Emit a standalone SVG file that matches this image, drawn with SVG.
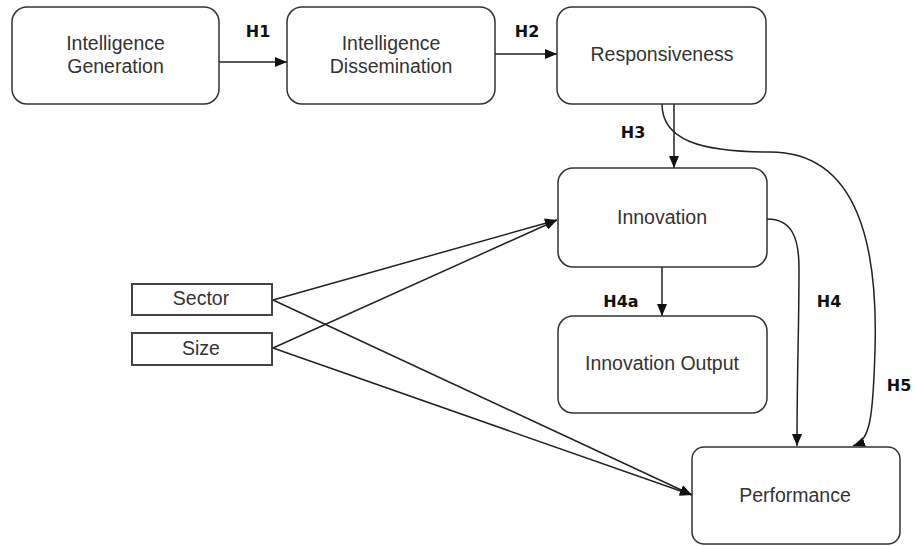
<svg xmlns="http://www.w3.org/2000/svg" width="915" height="546" viewBox="0 0 915 546">
<style>
.node{fill:#fff;stroke:#333;stroke-width:1.5}
.sq{fill:#fff;stroke:#444;stroke-width:2}
.t{font-family:"Liberation Sans",Arial,sans-serif;font-size:19.5px;fill:#333;text-anchor:middle}
.lab{font-family:"DejaVu Sans",Verdana,sans-serif;font-weight:bold;font-size:16px;fill:#111;text-anchor:middle}
.c{fill:none;stroke:#222;stroke-width:1.5}
</style>
<defs>
<marker id="ah" viewBox="0 0 12 10" refX="12" refY="5" markerWidth="12" markerHeight="10" markerUnits="userSpaceOnUse" orient="auto">
<path d="M0,0 L12,5 L0,10 Z" fill="#111"/>
</marker>
</defs>
<g id="connectors">
<path class="c" d="M219,62 L287,62" marker-end="url(#ah)"/>
<path class="c" d="M495,54 L557,54" marker-end="url(#ah)"/>
<path class="c" d="M674,104 L674,168" marker-end="url(#ah)"/>
<path class="c" d="M662,104 C662,140 700,152 770,152 C860,152 878,250 875,350 C873,420 870,440 853,446" marker-end="url(#ah)"/>
<path class="c" d="M767,219 C792,219 799,238 799,268 C799,330 797,370 797,446" marker-end="url(#ah)"/>
<path class="c" d="M662,267 L662,316" marker-end="url(#ah)"/>
<path class="c" d="M273,300 L557,220" marker-end="url(#ah)"/>
<path class="c" d="M273,348 L557,220" marker-end="url(#ah)"/>
<path class="c" d="M273,300 L692,495" marker-end="url(#ah)"/>
<path class="c" d="M273,348 L692,495" marker-end="url(#ah)"/>
</g>
<g id="labels">
<text class="lab" x="258" y="37">H1</text>
<text class="lab" x="527" y="37">H2</text>
<text class="lab" x="633" y="138">H3</text>
<text class="lab" x="621" y="307">H4a</text>
<text class="lab" x="829" y="307">H4</text>
<text class="lab" x="899" y="391">H5</text>
</g>
<g id="intelligence-generation">
<rect class="node" x="12" y="7" width="207" height="97" rx="15"/>
<text class="t" x="115.5" y="50">Intelligence</text>
<text class="t" x="115.5" y="73">Generation</text>
</g>
<g id="intelligence-dissemination">
<rect class="node" x="287" y="7" width="208" height="97" rx="15"/>
<text class="t" x="391" y="50">Intelligence</text>
<text class="t" x="391" y="73">Dissemination</text>
</g>
<g id="responsiveness">
<rect class="node" x="557" y="7" width="209" height="97" rx="15"/>
<text class="t" x="662" y="61">Responsiveness</text>
</g>
<g id="innovation">
<rect class="node" x="558" y="168" width="209" height="99" rx="15"/>
<text class="t" x="662" y="224">Innovation</text>
</g>
<g id="innovation-output">
<rect class="node" x="558" y="316" width="209" height="97" rx="15"/>
<text class="t" x="662" y="370">Innovation Output</text>
</g>
<g id="performance">
<rect class="node" x="692" y="447" width="208" height="97" rx="12"/>
<text class="t" x="795" y="502">Performance</text>
</g>
<g id="sector">
<rect class="sq" x="132" y="284" width="140" height="31"/>
<text class="t" x="201" y="305">Sector</text>
</g>
<g id="size">
<rect class="sq" x="132" y="333" width="140" height="32"/>
<text class="t" x="201" y="355">Size</text>
</g>
</svg>
